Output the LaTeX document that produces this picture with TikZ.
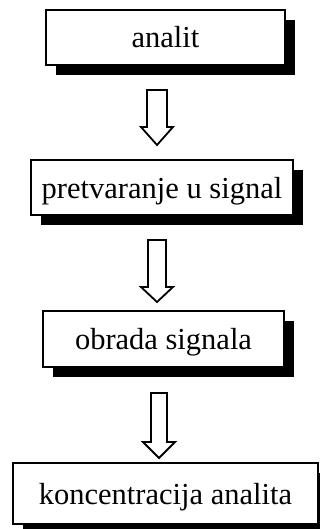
\documentclass[tikz,border=0pt]{standalone}
\usepackage{fontspec}
\setmainfont{Liberation Serif}
\usetikzlibrary{shadows}
\begin{document}
\begin{tikzpicture}[x=1pt,y=1pt,
  box/.style={draw=black, line width=2pt, fill=white, inner sep=0pt,
    text height=21pt, text depth=0pt,
    font=\fontsize{30.5}{36}\selectfont,
    drop shadow={shadow xshift=10pt, shadow yshift=-10pt, fill=black, opacity=1}},
  hollow/.style={draw=black, line width=1.8pt, fill=white, line join=miter}]
\useasboundingbox (0,0) rectangle (320,-529);
\node[box, minimum width=239pt, minimum height=55pt] (b1) at (165.5,-37.5) {analit};
\node[box, minimum width=262pt, minimum height=55pt] (b2) at (162,-187.5) {pretvaranje u signal};
\node[box, minimum width=241pt, minimum height=56pt] (b3) at (163.5,-339) {obrada signala};
\node[box, minimum width=305pt, minimum height=61pt] (b4) at (165.5,-493.5) {koncentracija analita};
% arrows
\coordinate (a1top) at (157,-90);  \coordinate (a1tip) at (157,-145);
\coordinate (a2top) at (157,-240); \coordinate (a2tip) at (157,-302);
\coordinate (a3top) at (159,-393); \coordinate (a3tip) at (159,-458);
\draw[hollow] ([xshift=-10pt]a1top) -- ([xshift=-10pt,yshift=18pt]a1tip) -- ([xshift=-16pt,yshift=18pt]a1tip) -- (a1tip) -- ([xshift=16pt,yshift=18pt]a1tip) -- ([xshift=10pt,yshift=18pt]a1tip) -- ([xshift=10pt]a1top) -- cycle;
\draw[hollow] ([xshift=-9pt]a2top) -- ([xshift=-9pt,yshift=15pt]a2tip) -- ([xshift=-16pt,yshift=15pt]a2tip) -- (a2tip) -- ([xshift=16pt,yshift=15pt]a2tip) -- ([xshift=9pt,yshift=15pt]a2tip) -- ([xshift=9pt]a2top) -- cycle;
\draw[hollow] ([xshift=-8pt]a3top) -- ([xshift=-8pt,yshift=16pt]a3tip) -- ([xshift=-16pt,yshift=16pt]a3tip) -- (a3tip) -- ([xshift=16pt,yshift=16pt]a3tip) -- ([xshift=8pt,yshift=16pt]a3tip) -- ([xshift=8pt]a3top) -- cycle;
\end{tikzpicture}
\end{document}
